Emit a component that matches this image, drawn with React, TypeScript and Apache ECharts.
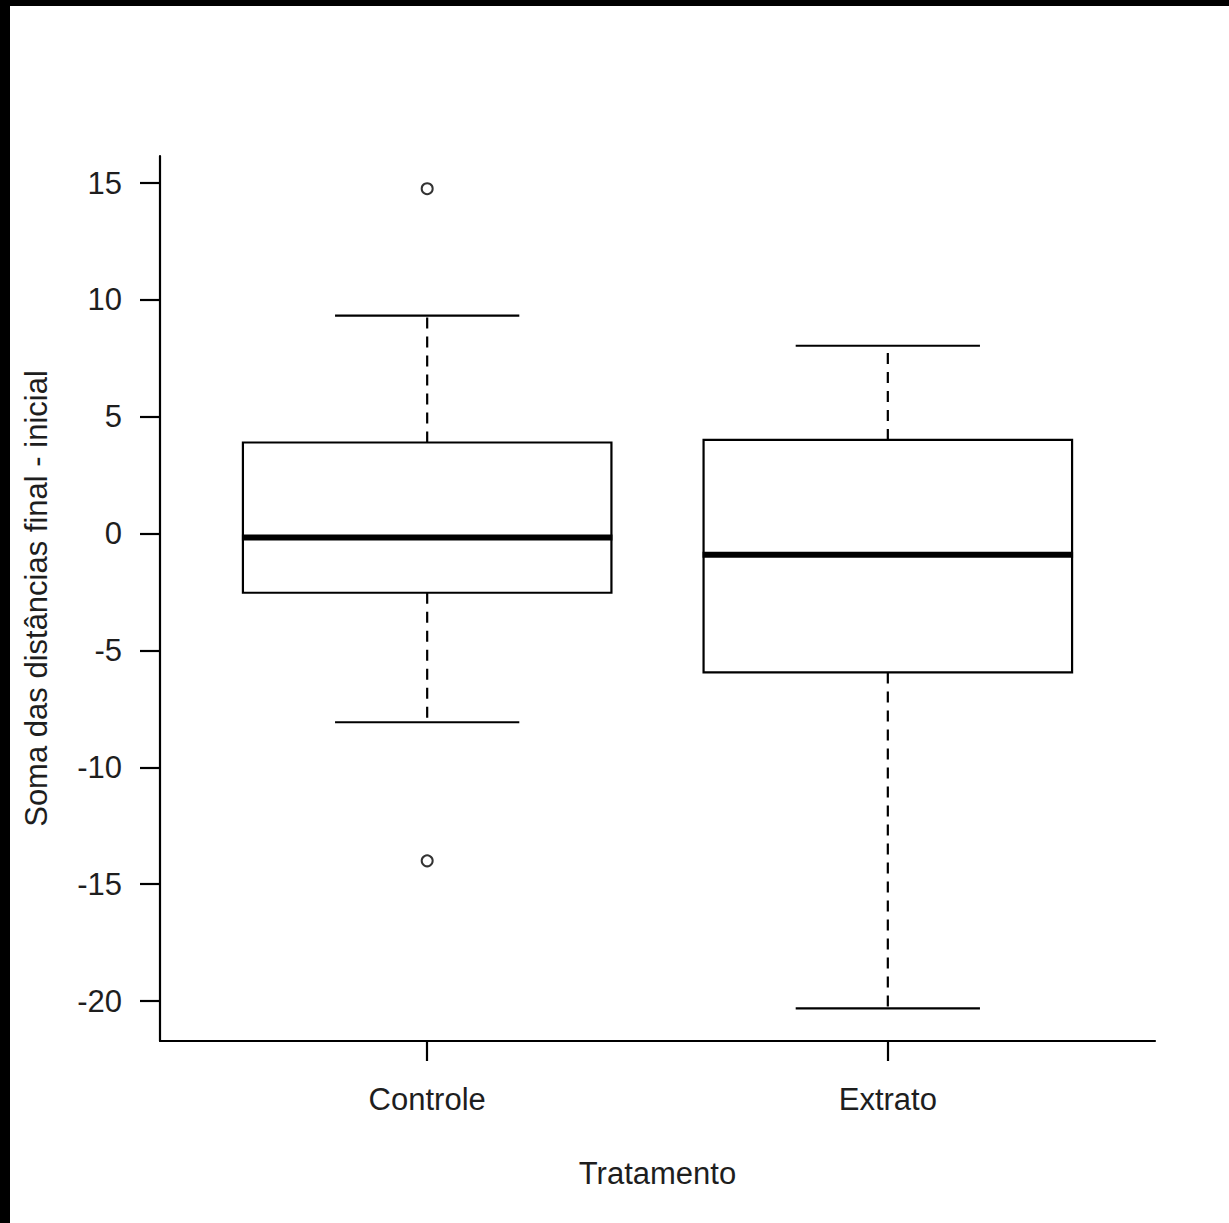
import React, { useEffect, useRef } from "react";
import * as echarts from "echarts";

const CATEGORIES = ["Controle", "Extrato"];
const LOWER_WHISKER = [-8.07, -20.31];
const Q1 = [-2.53, -5.94];
const MEDIAN = [-0.16, -0.9];
const Q3 = [3.9, 4.01];
const UPPER_WHISKER = [9.33, 8.04];
// [category index, value]
const OUTLIERS: [number, number][] = [
  [0, 14.76],
  [0, -14.0],
];
const Y_TICKS = [-20, -15, -10, -5, 0, 5, 10, 15];
const Y_MIN = -21.71;
const Y_MAX = 16.16;
const X_MIN = 0.42;
const X_MAX = 2.58;
const BOX_WIDTH = 0.8;
const CAP_WIDTH = 0.4;

const FONT = "'Liberation Sans', Arial, sans-serif";
const TEXT_COLOR = "#1e1e1e";
const FS = 31;

export default function App() {
  const ref = useRef<HTMLDivElement>(null);

  useEffect(() => {
    if (!ref.current) return;
    const chart = echarts.init(ref.current, undefined, { renderer: "svg" });

    const boxData = CATEGORIES.map((_, i) => [
      i + 1,
      LOWER_WHISKER[i],
      Q1[i],
      MEDIAN[i],
      Q3[i],
      UPPER_WHISKER[i],
    ]);
    const outlierData = OUTLIERS.map(([ci, v]) => [ci + 1, v]);

    const option: any = {
      animation: false,
      backgroundColor: "#ffffff",
      grid: { left: 150, right: 74, top: 150, bottom: 182 },
      xAxis: {
        type: "value",
        min: X_MIN,
        max: X_MAX,
        name: "Tratamento",
        nameLocation: "middle",
        nameGap: 117,
        nameTextStyle: { fontFamily: FONT, fontSize: FS, color: TEXT_COLOR },
        splitLine: { show: false },
        axisLine: { show: true, onZero: false, lineStyle: { color: "#000", width: 2.2 } },
        axisTick: {
          show: true,
          customValues: [1, 2],
          length: 20,
          lineStyle: { color: "#000", width: 2.2 },
        },
        axisLabel: {
          customValues: [1, 2],
          formatter: (v: number) => CATEGORIES[Math.round(v) - 1] ?? "",
          fontFamily: FONT,
          fontSize: FS,
          color: TEXT_COLOR,
          margin: 43,
        },
      },
      yAxis: {
        type: "value",
        min: Y_MIN,
        max: Y_MAX,
        name: "Soma das distâncias final - inicial",
        nameLocation: "middle",
        nameGap: 108,
        nameRotate: 90,
        nameTextStyle: { fontFamily: FONT, fontSize: FS, color: TEXT_COLOR },
        splitLine: { show: false },
        axisLine: { show: true, onZero: false, lineStyle: { color: "#000", width: 2.2 } },
        axisTick: {
          show: true,
          customValues: Y_TICKS,
          length: 20,
          lineStyle: { color: "#000", width: 2.2 },
        },
        axisLabel: {
          customValues: Y_TICKS,
          fontFamily: FONT,
          fontSize: FS,
          color: TEXT_COLOR,
          margin: 38,
        },
      },
      series: [
        {
          type: "custom",
          data: boxData,
          encode: { x: 0, y: [1, 2, 3, 4, 5] },
          renderItem: (_params: any, api: any) => {
            const x = api.value(0);
            const low = api.coord([x, api.value(1)]);
            const q1 = api.coord([x, api.value(2)]);
            const med = api.coord([x, api.value(3)]);
            const q3 = api.coord([x, api.value(4)]);
            const high = api.coord([x, api.value(5)]);
            const halfBox = api.size([BOX_WIDTH, 0])[0] / 2;
            const halfCap = api.size([CAP_WIDTH, 0])[0] / 2;
            const cx = q1[0];
            const dashed = { stroke: "#000", lineWidth: 2.2, lineDash: [11, 8], fill: null };
            const solid = { stroke: "#000", lineWidth: 2.2, fill: null };
            return {
              type: "group",
              children: [
                { type: "line", shape: { x1: cx, y1: q3[1], x2: cx, y2: high[1] }, style: dashed },
                { type: "line", shape: { x1: cx, y1: q1[1], x2: cx, y2: low[1] }, style: dashed },
                { type: "line", shape: { x1: cx - halfCap, y1: high[1], x2: cx + halfCap, y2: high[1] }, style: solid },
                { type: "line", shape: { x1: cx - halfCap, y1: low[1], x2: cx + halfCap, y2: low[1] }, style: solid },
                {
                  type: "rect",
                  shape: { x: cx - halfBox, y: q3[1], width: halfBox * 2, height: q1[1] - q3[1] },
                  style: { fill: "#fff", stroke: "#000", lineWidth: 2.2 },
                },
                {
                  type: "line",
                  shape: { x1: cx - halfBox - 1, y1: med[1], x2: cx + halfBox + 1, y2: med[1] },
                  style: { stroke: "#000", lineWidth: 6 },
                },
              ],
            };
          },
          z: 2,
        },
        {
          type: "scatter",
          data: outlierData,
          symbol: "circle",
          symbolSize: 11,
          itemStyle: { color: "#fff", borderColor: "#000", borderWidth: 2 },
          z: 3,
        },
      ],
    };

    chart.setOption(option);
    return () => chart.dispose();
  }, []);

  return (
    <div
      style={{
        position: "absolute",
        left: 0,
        top: 0,
        width: 1229,
        height: 1223,
        background: "#000",
      }}
    >
      <div
        ref={ref}
        style={{
          position: "absolute",
          left: 10,
          top: 6,
          width: 1219,
          height: 1217,
          background: "#fff",
        }}
      />
    </div>
  );
}
